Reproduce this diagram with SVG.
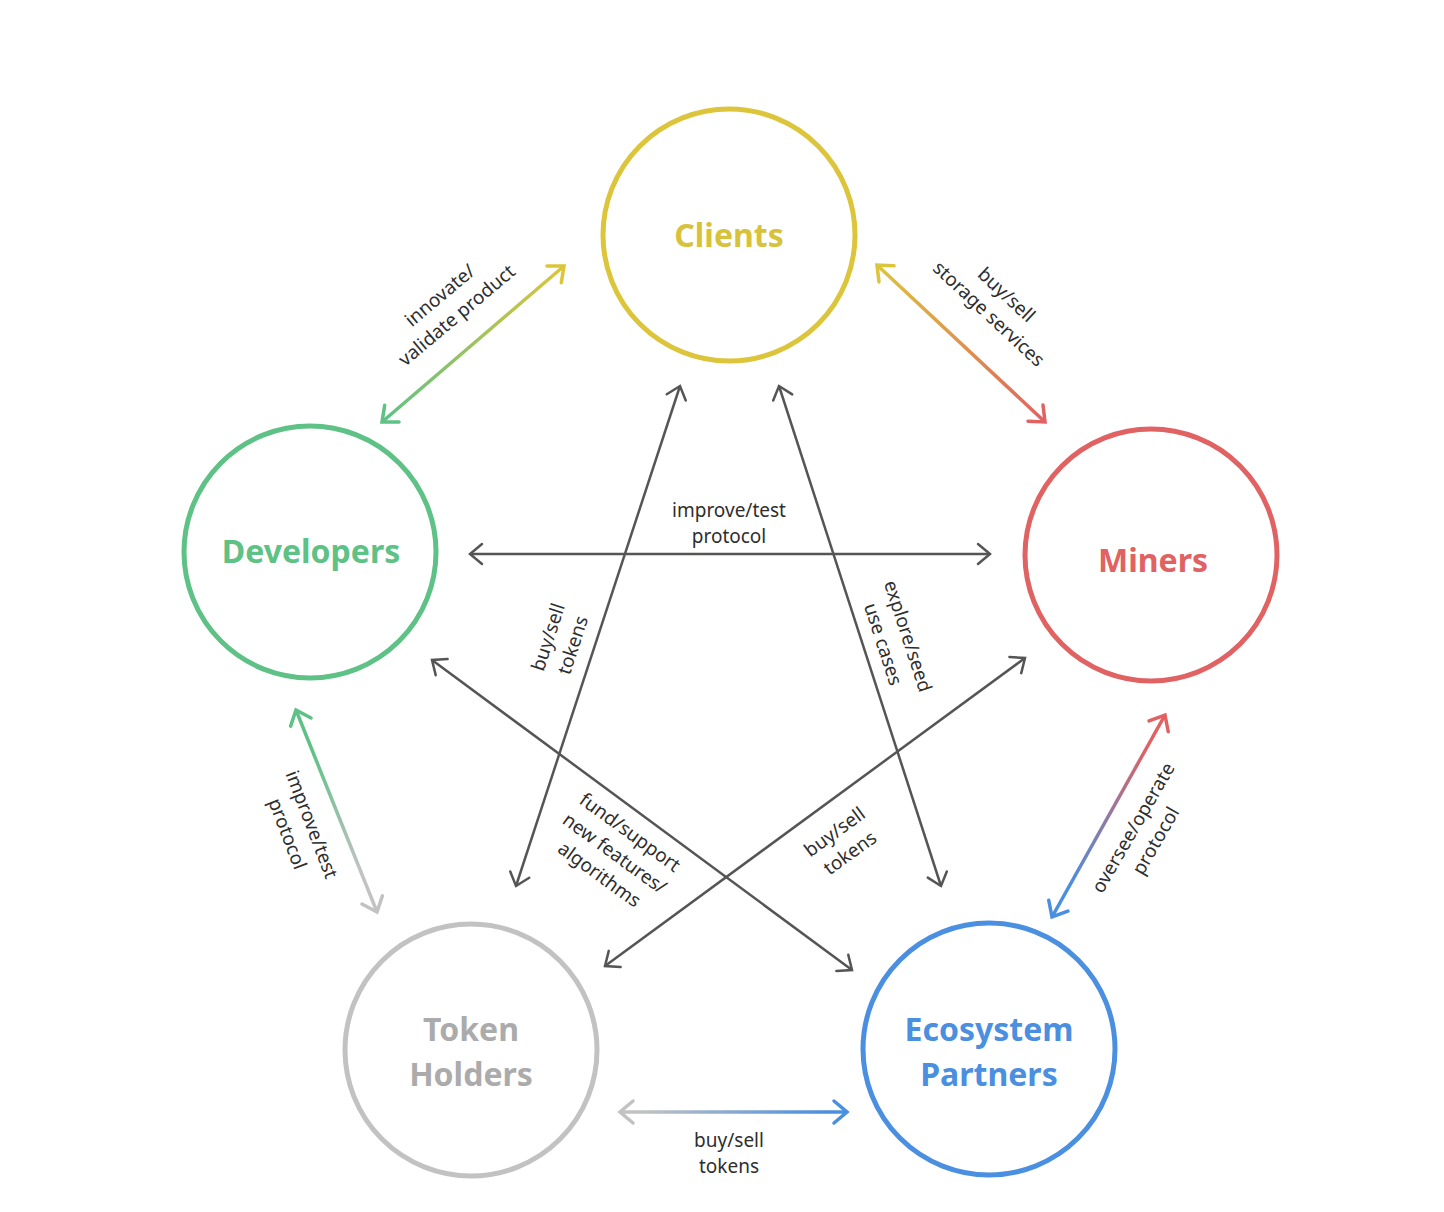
<svg xmlns="http://www.w3.org/2000/svg" width="1444" height="1212" viewBox="0 0 1444 1212">
<style>
.node{fill:none;stroke-width:5}
.nl{font-family:"Noto Sans","Open Sans",sans-serif;font-weight:700;font-size:32px;text-anchor:middle}
.lab{font-family:"Noto Sans","Open Sans",sans-serif;font-size:19px;fill:#2e2e2e;text-anchor:middle}
.cl{fill:none;stroke-width:3.5}
.dk{fill:none;stroke:#555;stroke-width:2.5}
</style>
<defs>
<marker id="m-dark" markerUnits="userSpaceOnUse" markerWidth="40" markerHeight="40" refX="0" refY="0" orient="auto-start-reverse" overflow="visible"><path d="M-12,-10 L0,0 L-12,10" fill="none" stroke="#555" stroke-width="2.5" stroke-linecap="round"/></marker>
<marker id="m-yellow" markerUnits="userSpaceOnUse" markerWidth="40" markerHeight="40" refX="0" refY="0" orient="auto-start-reverse" overflow="visible"><path d="M-13,-11 L0,0 L-13,11" fill="none" stroke="#DCC53A" stroke-width="3.5" stroke-linecap="round"/></marker>
<marker id="m-green" markerUnits="userSpaceOnUse" markerWidth="40" markerHeight="40" refX="0" refY="0" orient="auto-start-reverse" overflow="visible"><path d="M-13,-11 L0,0 L-13,11" fill="none" stroke="#5EC185" stroke-width="3.5" stroke-linecap="round"/></marker>
<marker id="m-red" markerUnits="userSpaceOnUse" markerWidth="40" markerHeight="40" refX="0" refY="0" orient="auto-start-reverse" overflow="visible"><path d="M-13,-11 L0,0 L-13,11" fill="none" stroke="#E06262" stroke-width="3.5" stroke-linecap="round"/></marker>
<marker id="m-gray" markerUnits="userSpaceOnUse" markerWidth="40" markerHeight="40" refX="0" refY="0" orient="auto-start-reverse" overflow="visible"><path d="M-13,-11 L0,0 L-13,11" fill="none" stroke="#C2C2C2" stroke-width="3.5" stroke-linecap="round"/></marker>
<marker id="m-blue" markerUnits="userSpaceOnUse" markerWidth="40" markerHeight="40" refX="0" refY="0" orient="auto-start-reverse" overflow="visible"><path d="M-13,-11 L0,0 L-13,11" fill="none" stroke="#4A8FE0" stroke-width="3.5" stroke-linecap="round"/></marker>
<linearGradient id="g1" gradientUnits="userSpaceOnUse" x1="382" y1="422" x2="564" y2="266"><stop offset="0" stop-color="#5EC185"/><stop offset="1" stop-color="#DCC53A"/></linearGradient>
<linearGradient id="g2" gradientUnits="userSpaceOnUse" x1="877" y1="265" x2="1045" y2="422"><stop offset="0" stop-color="#DCC53A"/><stop offset="1" stop-color="#E06262"/></linearGradient>
<linearGradient id="g3" gradientUnits="userSpaceOnUse" x1="296" y1="710" x2="377" y2="912"><stop offset="0.2" stop-color="#5EC185"/><stop offset="0.8" stop-color="#C2C2C2"/></linearGradient>
<linearGradient id="g4" gradientUnits="userSpaceOnUse" x1="1165" y1="715" x2="1052" y2="917"><stop offset="0.15" stop-color="#E06262"/><stop offset="0.85" stop-color="#4A8FE0"/></linearGradient>
<linearGradient id="g5" gradientUnits="userSpaceOnUse" x1="620" y1="1112" x2="847" y2="1112"><stop offset="0.1" stop-color="#C2C2C2"/><stop offset="0.9" stop-color="#4A8FE0"/></linearGradient>
</defs>
<rect width="1444" height="1212" fill="#fff"/>

<g id="connectors">
<line class="cl" x1="382" y1="422" x2="564" y2="266" stroke="url(#g1)" marker-start="url(#m-green)" marker-end="url(#m-yellow)"/>
<line class="cl" x1="877" y1="265" x2="1045" y2="422" stroke="url(#g2)" marker-start="url(#m-yellow)" marker-end="url(#m-red)"/>
<line class="cl" x1="296" y1="710" x2="377" y2="912" stroke="url(#g3)" marker-start="url(#m-green)" marker-end="url(#m-gray)"/>
<line class="cl" x1="1165" y1="715" x2="1052" y2="917" stroke="url(#g4)" marker-start="url(#m-red)" marker-end="url(#m-blue)"/>
<line class="cl" x1="620" y1="1112" x2="847" y2="1112" stroke="url(#g5)" marker-start="url(#m-gray)" marker-end="url(#m-blue)"/>
<line class="dk" x1="470" y1="554" x2="990" y2="554" marker-start="url(#m-dark)" marker-end="url(#m-dark)"/>
<line class="dk" x1="680" y1="386" x2="516" y2="886" marker-start="url(#m-dark)" marker-end="url(#m-dark)"/>
<line class="dk" x1="779" y1="386" x2="941" y2="886" marker-start="url(#m-dark)" marker-end="url(#m-dark)"/>
<line class="dk" x1="432" y1="660" x2="852" y2="970" marker-start="url(#m-dark)" marker-end="url(#m-dark)"/>
<line class="dk" x1="1025" y1="658" x2="605" y2="966" marker-start="url(#m-dark)" marker-end="url(#m-dark)"/>
</g>

<g id="labels">
<g transform="translate(448,305) rotate(-40)"><text class="lab" x="0" y="-6">innovate/</text><text class="lab" x="0" y="20">validate product</text></g>
<g transform="translate(998,304) rotate(43)"><text class="lab" x="0" y="-6">buy/sell</text><text class="lab" x="0" y="20">storage services</text></g>
<text class="lab" x="729" y="517">improve/test</text>
<text class="lab" x="729" y="543">protocol</text>
<g transform="translate(560,641) rotate(-72)"><text class="lab" x="0" y="-6">buy/sell</text><text class="lab" x="0" y="20">tokens</text></g>
<g transform="translate(896,640) rotate(72)"><text class="lab" x="0" y="-6">explore/seed</text><text class="lab" x="0" y="20">use cases</text></g>
<g transform="translate(615,853) rotate(36)"><text class="lab" x="0" y="-19">fund/support</text><text class="lab" x="0" y="7">new features/</text><text class="lab" x="0" y="33">algorithms</text></g>
<g transform="translate(842,842) rotate(-36)"><text class="lab" x="0" y="-6">buy/sell</text><text class="lab" x="0" y="20">tokens</text></g>
<g transform="translate(300,829) rotate(69)"><text class="lab" x="0" y="-6">improve/test</text><text class="lab" x="0" y="20">protocol</text></g>
<g transform="translate(1144,834) rotate(-60)"><text class="lab" x="0" y="-6">oversee/operate</text><text class="lab" x="0" y="20">protocol</text></g>
<text class="lab" x="729" y="1147">buy/sell</text>
<text class="lab" x="729" y="1173">tokens</text>
</g>

<g id="clients"><circle class="node" cx="729" cy="235" r="126" stroke="#DCC53A"/><text class="nl" x="729" y="247" fill="#D8C23C">Clients</text></g>
<g id="developers"><circle class="node" cx="310" cy="552" r="126" stroke="#5EC185"/><text class="nl" x="311" y="563" fill="#5EC185">Developers</text></g>
<g id="miners"><circle class="node" cx="1151" cy="555" r="126" stroke="#E06262"/><text class="nl" x="1153" y="572" fill="#E06262">Miners</text></g>
<g id="token-holders"><circle class="node" cx="471" cy="1050" r="126" stroke="#C2C2C2"/><text class="nl" x="471" y="1041" fill="#ABABAB">Token</text><text class="nl" x="471" y="1086" fill="#ABABAB">Holders</text></g>
<g id="ecosystem-partners"><circle class="node" cx="989" cy="1049" r="126" stroke="#4A8FE0"/><text class="nl" x="989" y="1041" fill="#4A8FE0">Ecosystem</text><text class="nl" x="989" y="1086" fill="#4A8FE0">Partners</text></g>
</svg>
